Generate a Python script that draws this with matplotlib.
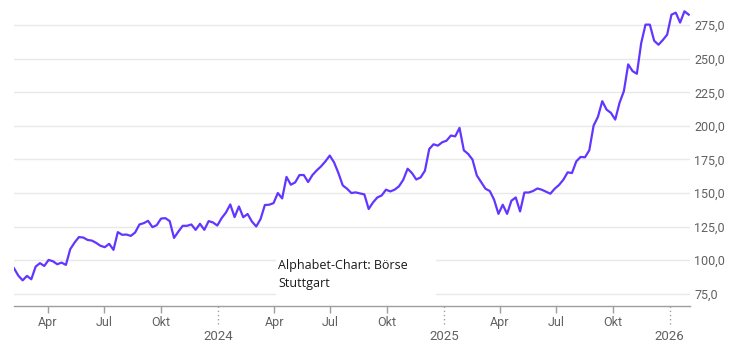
import pandas as pd
import matplotlib
matplotlib.use('Agg')
import matplotlib.pyplot as plt
import matplotlib.dates as mdates
import matplotlib.transforms as mtransforms
from matplotlib.patches import Rectangle
from matplotlib.ticker import FuncFormatter

# weekly closing prices (EUR), Boerse Stuttgart, Feb 2023 - Feb 2026
first_week = '2023-02-05'
prices = [94.0, 88.5, 85.0, 88.3, 85.8, 95.2, 97.8, 95.7, 100.2, 99.2,
          97.0, 98.2, 96.5, 108.2, 113.1, 117.2, 116.9, 115.1, 114.6, 112.9,
          110.7, 109.7, 112.2, 107.7, 120.9, 118.9, 119.1, 118.1, 120.6, 126.6,
          127.6, 129.3, 124.6, 126.1, 131.0, 131.3, 129.1, 116.6, 121.3, 125.6,
          125.6, 126.6, 122.6, 127.1, 122.6, 129.1, 128.1, 125.8, 131.3, 135.5,
          141.5, 132.1, 140.0, 132.0, 134.4, 128.8, 125.1, 130.6, 141.1, 141.3,
          142.5, 150.0, 146.0, 162.0, 156.2, 157.9, 163.4, 163.4, 158.2, 163.4,
          166.9, 169.9, 173.6, 177.9, 172.8, 164.9, 155.7, 153.2, 150.0, 150.5,
          149.7, 149.0, 138.1, 143.0, 146.7, 148.2, 152.5, 151.2, 152.5, 155.0,
          159.9, 168.1, 164.9, 160.1, 161.6, 166.6, 182.8, 186.3, 185.3, 187.8,
          189.0, 192.8, 192.2, 198.5, 181.8, 179.1, 174.9, 163.1, 158.2, 153.2,
          151.5, 145.0, 134.5, 141.3, 134.5, 144.3, 146.7, 136.3, 150.4, 150.4,
          151.5, 153.4, 152.5, 151.0, 149.5, 153.2, 156.0, 159.9, 165.4, 164.9,
          173.6, 176.9, 176.6, 181.8, 200.2, 206.7, 218.4, 212.1, 209.7, 204.7,
          217.2, 225.9, 245.8, 240.8, 238.8, 261.6, 275.4, 275.4, 263.4, 260.4,
          263.9, 267.9, 282.8, 284.3, 276.9, 285.3, 282.8]

y_ticks = [75, 100, 125, 150, 175, 200, 225, 250, 275]
month_names = {4: 'Apr', 7: 'Jul', 10: 'Okt'}
years = [2024, 2025, 2026]
title = 'Alphabet-Chart: Börse\nStuttgart'

line_color = '#6236ff'
axis_color = '#9e9e9e'
label_color = '#616161'

dates = pd.date_range(first_week, periods=len(prices), freq='W')

fig = plt.figure(figsize=(7.41, 3.51), dpi=100)
W, H = 741., 351.
ax = fig.add_axes([14 / W, 1 - 306 / H, (690 - 14) / W, (306 - 5) / H])

ax.plot(dates, prices, color=line_color, lw=1.6, solid_joinstyle='round', zorder=3)

ax.set_xlim(dates[0], dates[-1] + pd.Timedelta(days=2))
ax.set_ylim(65.9, 290.0)

# y axis on the right, german decimal comma
ax.set_yticks(y_ticks)
ax.yaxis.tick_right()
ax.yaxis.set_major_formatter(FuncFormatter(lambda v, p: ('%.1f' % v).replace('.', ',')))
ax.tick_params(axis='y', length=0, pad=3, labelsize=9, labelcolor=label_color)
ax.yaxis.grid(True, color='#e8e8e8', lw=1)
ax.set_axisbelow(True)

for side in ['top', 'left', 'right']:
    ax.spines[side].set_visible(False)
ax.spines['bottom'].set_color(axis_color)
ax.spines['bottom'].set_linewidth(1)

# quarter months as major ticks, years underneath
ax.xaxis.set_major_locator(mdates.MonthLocator(bymonth=list(month_names.keys())))
ax.xaxis.set_major_formatter(FuncFormatter(lambda v, p: month_names[mdates.num2date(v).month]))
ax.xaxis.set_minor_locator(mdates.YearLocator())
ax.xaxis.set_minor_formatter(mdates.DateFormatter('%Y'))
ax.tick_params(axis='x', which='major', length=5, width=1, color=axis_color,
               pad=2, labelsize=9, labelcolor=label_color)
ax.tick_params(axis='x', which='minor', length=0, pad=17, labelsize=9.5,
               labelcolor=label_color)

trans = mtransforms.blended_transform_factory(ax.transData, ax.transAxes)
for yr in years:
    d = pd.Timestamp(year=yr, month=1, day=1)
    ax.plot([d, d], [0, -0.06], transform=trans, ls=(0, (1, 2)), color=axis_color,
            lw=1, clip_on=False)

# white label box over the grid
ax.add_patch(Rectangle((276 / W, 1 - 301 / H), 160 / W, 51 / H, transform=fig.transFigure,
                       facecolor='white', edgecolor='none', zorder=2))
ax.text(278 / W, 1 - 259 / H, title, transform=fig.transFigure, fontsize=9,
        family='Open Sans', color='#1a1a1a', va='top', ha='left', linespacing=1.45, zorder=4)

plt.rcParams['font.family'] = ['Roboto', 'DejaVu Sans']
for lbl in ax.get_xticklabels(which='both') + ax.get_yticklabels():
    lbl.set_family('Roboto')

fig.savefig('out.png', dpi=100)
